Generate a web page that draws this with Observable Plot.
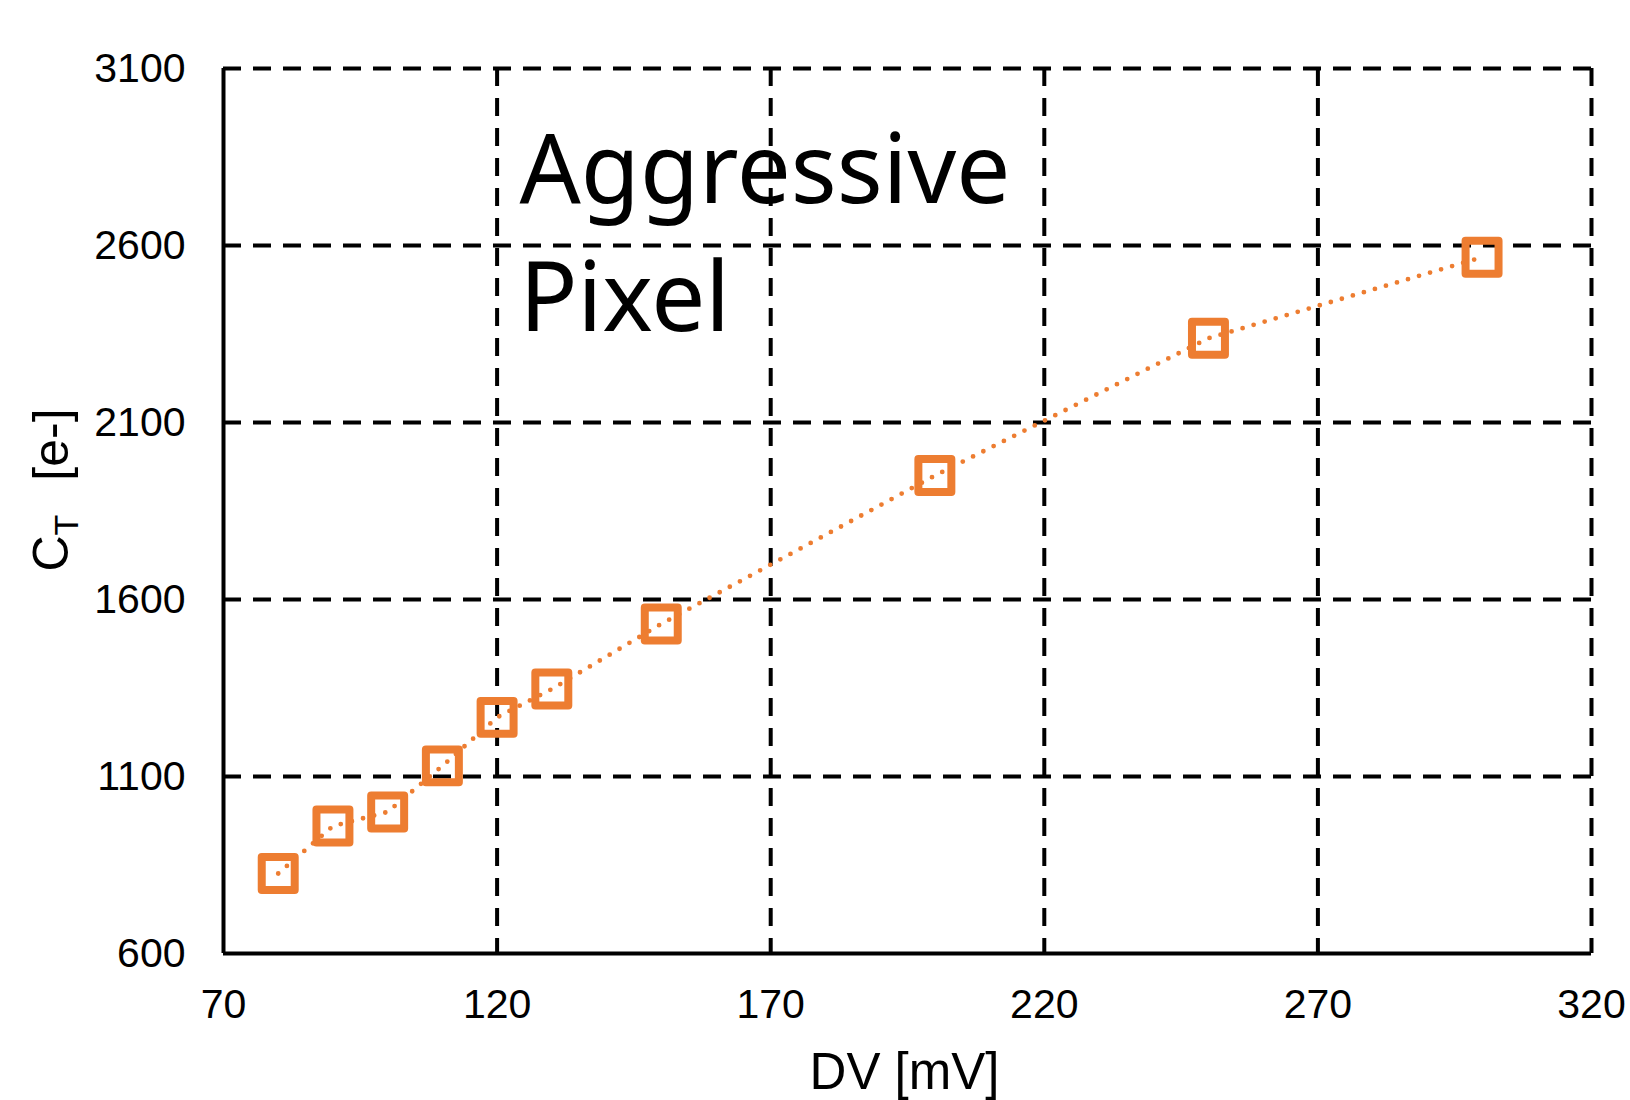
<!DOCTYPE html>
<html>
<head>
<meta charset="utf-8">
<script src="https://cdn.jsdelivr.net/npm/d3@7"></script>
<script src="https://cdn.jsdelivr.net/npm/@observablehq/plot@0.6"></script>
<style>
  html, body { margin: 0; padding: 0; background: #fff; }
  #chart svg { display: block; }
</style>
</head>
<body>
<div id="chart"></div>
<script>
// ---- data ----
const dv = [80, 90, 100, 110, 120, 130, 150, 200, 250, 300];          // DV [mV]
const ct = [826, 960, 1000, 1130, 1267, 1347, 1531, 1950, 2338, 2567]; // C_T [e-]
const xTicks = [70, 120, 170, 220, 270, 320];
const yTicks = [600, 1100, 1600, 2100, 2600, 3100];
const xGridTicks = [120, 170, 220, 270, 320];
const yGridTicks = [1100, 1600, 2100, 2600, 3100];
const xTitle = "DV [mV]";
const yTitleMain = "C";
const yTitleSub = "T";
const yTitleUnit = "[e-]";
const annotation = "Aggressive\nPixel";

const points = dv.map((x, i) => ({x, y: ct[i]}));
const orange = "#ED7D31";
const plain = d => String(d);

const chart = Plot.plot({
  width: 1630,
  height: 1100,
  marginLeft: 223,
  marginRight: 39,
  marginTop: 68,
  marginBottom: 147,
  style: {
    fontFamily: "'Liberation Sans', Arial, sans-serif",
    fontSize: "41px",
    color: "#000",
    background: "#fff"
  },
  x: {domain: [70, 320]},
  y: {domain: [600, 3100]},
  marks: [
    Plot.gridX(xGridTicks, {stroke: "#000", strokeOpacity: 1, strokeWidth: 4, strokeDasharray: "18 12"}),
    Plot.gridY(yGridTicks, {stroke: "#000", strokeOpacity: 1, strokeWidth: 4, strokeDasharray: "18 12"}),
    Plot.ruleX([xTicks[0]], {stroke: "#000", strokeWidth: 4}),
    Plot.ruleY([yTicks[0]], {stroke: "#000", strokeWidth: 4}),
    Plot.axisX(xTicks, {tickSize: 0, tickPadding: 35, label: null, fontSize: 41, tickFormat: plain}),
    Plot.axisY(yTicks, {tickSize: 0, tickPadding: 38, label: null, fontSize: 41, tickFormat: plain}),
    Plot.line(points, {x: "x", y: "y", stroke: orange, strokeWidth: 4.8, strokeDasharray: "0 11.5", strokeLinecap: "round"}),
    Plot.dot(points, {x: "x", y: "y", symbol: "square", r: 18.6, stroke: orange, strokeWidth: 8, fill: "none", strokeLinejoin: "round"}),
    Plot.text([annotation], {
      frameAnchor: "top-left", textAnchor: "start", lineAnchor: "top",
      dx: 296, dy: 44, lineHeight: 1.333,
      fontSize: 96, fontFamily: "'Noto Sans', sans-serif", letterSpacing: -3, fill: "#000"
    }),
    Plot.text([xTitle], {
      frameAnchor: "bottom", textAnchor: "middle", lineAnchor: "top",
      dx: -3, dy: 99, fontSize: 51, fill: "#000"
    })
  ]
});

// y-axis title with subscript
const svg = d3.select(chart);
const yt = svg.append("text")
  .attr("transform", "translate(68,490) rotate(-90)")
  .attr("text-anchor", "middle")
  .attr("font-family", "'Liberation Sans', Arial, sans-serif")
  .attr("font-size", 50)
  .attr("fill", "#000");
yt.append("tspan").text(yTitleMain);
yt.append("tspan").attr("font-size", 34).attr("dy", 10).text(yTitleSub);
yt.append("tspan").attr("dy", -10).attr("dx", 34).text(yTitleUnit);

document.getElementById("chart").appendChild(chart);
</script>
</body>
</html>
